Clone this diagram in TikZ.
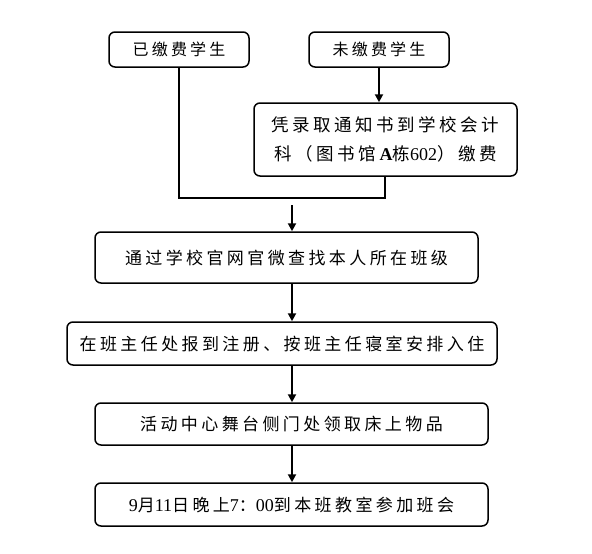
\documentclass[tikz,border=0pt]{standalone}
\usepackage{fontspec}
\setmainfont{Liberation Serif}
\newfontfamily\cjk[LetterSpace=20]{Noto Sans CJK SC}
\usetikzlibrary{arrows.meta}
\newcommand{\lat}[1]{{\rmfamily\fontsize{18pt}{20pt}\selectfont #1}}
\begin{document}
\begin{tikzpicture}[x=1pt,y=-1pt,
  box/.style={draw=black,line width=1.5pt,rounded corners=6pt,align=center,
    inner sep=0pt,font=\cjk\fontsize{17pt}{27pt}\selectfont},
  conn/.style={line width=2pt},
  arr/.style={line width=2pt,-{Triangle[length=8pt,width=8pt]}}]
\useasboundingbox (0,0) rectangle (592,554);
\node[box,minimum width=140pt,minimum height=35pt,font=\cjk\fontsize{16pt}{20pt}\selectfont] (b1) at (179,49.5) {已缴费学生};
\node[box,minimum width=140pt,minimum height=35pt,font=\cjk\fontsize{16pt}{20pt}\selectfont] (b2) at (379,49.5) {未缴费学生};
\node[box,minimum width=263pt,minimum height=73pt,font=\cjk\fontsize{17.5pt}{29pt}\selectfont] (b3) at (385.5,139.5)
  {凭录取通知书到学校会计\\科（图书馆\lat{\textbf{A}}栋\lat{602}）缴费};
\node[box,minimum width=383pt,minimum height=51pt] (b4) at (286.5,257.5) {通过学校官网官微查找本人所在班级};
\node[box,minimum width=430pt,minimum height=43pt] (b5) at (282,343.5) {在班主任处报到注册、按班主任寝室安排入住};
\node[box,minimum width=393pt,minimum height=42pt] (b6) at (291.5,424) {活动中心舞台侧门处领取床上物品};
\node[box,minimum width=393pt,minimum height=43pt] (b7) at (291.5,504.5)
  {\lat{9}月\lat{11}日晚上\lat{7}：\lat{00}到本班教室参加班会};
\coordinate (j) at (385,198);
\coordinate (s) at (292,205);
\draw[conn] (b1.south) |- (j) -- (j |- b3.south);
\draw[arr] (b2.south) -- (b2.south |- b3.north);
\draw[arr] (s) -- (s |- b4.north);
\draw[arr] (s |- b4.south) -- (s |- b5.north);
\draw[arr] (s |- b5.south) -- (s |- b6.north);
\draw[arr] (s |- b6.south) -- (s |- b7.north);
\end{tikzpicture}
\end{document}
